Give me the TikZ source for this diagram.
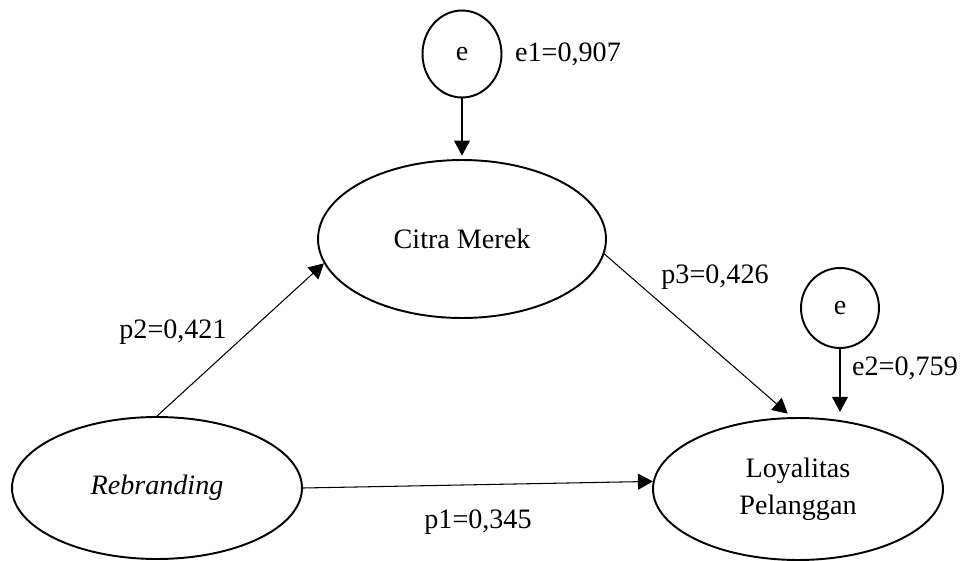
\documentclass[tikz,border=0pt]{standalone}
\usepackage{fontspec}
\setmainfont{Liberation Serif}
\usetikzlibrary{shapes.geometric}
\usetikzlibrary{arrows.meta}

\begin{document}
\begin{tikzpicture}[x=0.02cm,y=-0.02cm,
  every node/.style={font=\fontsize{16}{21}\selectfont},
  var/.style={draw,ellipse,line width=1.1pt,inner sep=0pt},
  jalur/.style={line width=0.6pt,-{Triangle[length=0.3cm,width=0.32cm]}}]%model jalur
\useasboundingbox (0,0) rectangle (968,561);
\node[var,minimum width=1.58cm,minimum height=1.74cm] (e1) at (462,54) {e};
\node[var,minimum width=5.76cm,minimum height=3.16cm] (citra) at (462,239) {Citra Merek};
\node[var,minimum width=1.56cm,minimum height=1.6cm] (e2) at (840,308) {e};
\node[var,minimum width=5.8cm,minimum height=2.84cm] (rebrand) at (157,488) {\textit{Rebranding}};
\node[var,minimum width=5.8cm,minimum height=2.84cm,align=center] (loyal) at (798,489) {Loyalitas\\Pelanggan};
\coordinate (e2end) at (e2 |- loyal.north);
% koefisien
\node (le1) at (568,54) {e1=0,907};
\node (le2) at (905,368) {e2=0,759};
\node (lp1) at (478,522) {p1=0,345};
\node (lp2) at (173,332) {p2=0,421};
\node (lp3) at (715,277) {p3=0,426};
% panah
\draw[jalur,shorten >=2pt] (e1) -- (citra);
\draw[jalur,shorten >=3pt] (e2) -- (e2end);
\draw[jalur] (rebrand.north) -- (citra.190);
\draw[jalur] (rebrand.east) -- (loyal.177);
\draw[jalur,shorten >=3pt] (citra.-6) -- (loyal.95);
\end{tikzpicture}
\end{document}
